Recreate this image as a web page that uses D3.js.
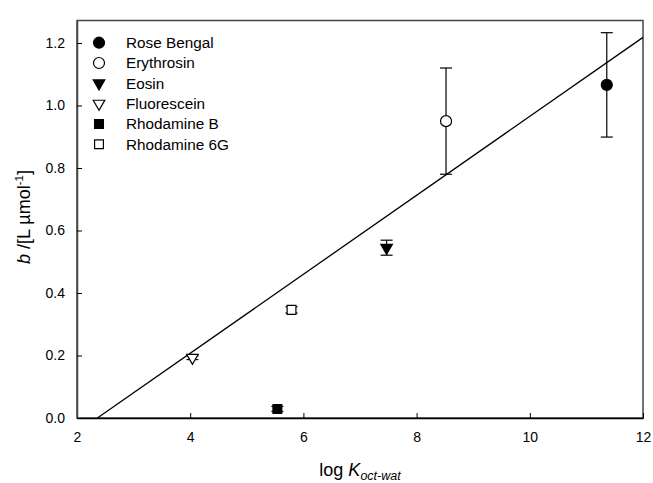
<!DOCTYPE html>
<html>
<head>
<meta charset="utf-8">
<script src="https://cdn.jsdelivr.net/npm/d3@7"></script>
<style>
  body { margin: 0; background: #fff; }
  svg { font-family: "Liberation Sans", Arial, sans-serif; }
</style>
</head>
<body>
<div id="chart"></div>
<script>
const dyes = ["Rose Bengal", "Erythrosin", "Eosin", "Fluorescein", "Rhodamine B", "Rhodamine 6G"];
const logK = [11.36, 8.52, 7.47, 4.04, 5.54, 5.79];
const bValues = [1.066, 0.950, 0.545, 0.193, 0.029, 0.346];
const bErrors = [0.167, 0.170, 0.024, 0.006, 0.008, 0.010];
const symbols = ["circle", "circle", "triangleDown", "triangleDown", "square", "square"];
const filled = [true, false, true, false, true, false];
const fitLine = [[2.36, 0], [12, 1.218]];
const xTicks = [2, 4, 6, 8, 10, 12];
const yTicks = [0.0, 0.2, 0.4, 0.6, 0.8, 1.0, 1.2];

const w = 653;
const h = 483;
const margin = { left: 77, right: 10, top: 20.5, bottom: 65 };

const svg = d3.select("#chart").append("svg").attr("width", w).attr("height", h);

const xScale = d3.scaleLinear().domain([2, 12]).range([margin.left, w - margin.right]);
const yScale = d3.scaleLinear().domain([0, 1.272]).range([h - margin.bottom, margin.top]);

// frame
svg.append("rect")
  .attr("x", xScale(2))
  .attr("y", yScale(1.272))
  .attr("width", xScale(12) - xScale(2))
  .attr("height", yScale(0) - yScale(1.272))
  .attr("fill", "none")
  .attr("stroke", "#444")
  .attr("stroke-width", 1.5);

const xAxis = d3.axisBottom(xScale).tickValues(xTicks).tickFormat(d3.format("d"))
  .tickSizeInner(-5).tickSizeOuter(0).tickPadding(14);
svg.append("g")
  .attr("transform", "translate(0," + yScale(0) + ")")
  .call(xAxis)
  .call((g) => g.select(".domain").attr("stroke", "#000").attr("stroke-width", 1.5));

const yAxis = d3.axisLeft(yScale).tickValues(yTicks).tickFormat(d3.format(".1f"))
  .tickSizeInner(-5).tickSizeOuter(0).tickPadding(12);
svg.append("g")
  .attr("transform", "translate(" + xScale(2) + ",0)")
  .call(yAxis)
  .call((g) => g.select(".domain").attr("stroke", "#444").attr("stroke-width", 1.5));

svg.selectAll(".tick text").attr("font-size", 14).attr("fill", "#000")
  .attr("font-family", "Liberation Sans, Arial, sans-serif");
svg.selectAll(".tick line").attr("stroke", "#000");

// regression line
svg.append("line")
  .attr("x1", xScale(fitLine[0][0]))
  .attr("y1", yScale(fitLine[0][1]))
  .attr("x2", xScale(fitLine[1][0]))
  .attr("y2", yScale(fitLine[1][1]))
  .attr("stroke", "#000")
  .attr("stroke-width", 1.3);

const symbolType = {
  circle: d3.symbolCircle,
  triangleDown: d3.symbolTriangle,
  square: d3.symbolSquare,
};
const symbolSize = { circle: 95, triangleDown: 58, square: 78 };
const symbolGen = (s) => d3.symbol().type(symbolType[s]).size(symbolSize[s])();
const rotate = (s) => (s === "triangleDown" ? " rotate(180)" : "");

const points = dyes.map((name, i) => ({
  name: name,
  x: logK[i],
  y: bValues[i],
  err: bErrors[i],
  sym: symbols[i],
  fill: filled[i],
}));

// error bars
const eb = svg.selectAll(".err").data(points).enter().append("g").attr("class", "err")
  .attr("stroke", "#000").attr("stroke-width", 1.2);
eb.append("line")
  .attr("x1", (d) => xScale(d.x)).attr("x2", (d) => xScale(d.x))
  .attr("y1", (d) => yScale(d.y - d.err)).attr("y2", (d) => yScale(d.y + d.err));
eb.append("line")
  .attr("x1", (d) => xScale(d.x) - 6).attr("x2", (d) => xScale(d.x) + 6)
  .attr("y1", (d) => yScale(d.y + d.err)).attr("y2", (d) => yScale(d.y + d.err));
eb.append("line")
  .attr("x1", (d) => xScale(d.x) - 6).attr("x2", (d) => xScale(d.x) + 6)
  .attr("y1", (d) => yScale(d.y - d.err)).attr("y2", (d) => yScale(d.y - d.err));

// markers
svg.selectAll(".pt").data(points).enter().append("path")
  .attr("class", "pt")
  .attr("d", (d) => symbolGen(d.sym))
  .attr("transform", (d) => "translate(" + xScale(d.x) + "," + yScale(d.y) + ")" + rotate(d.sym))
  .attr("fill", (d) => (d.fill ? "#000" : "#fff"))
  .attr("stroke", "#000")
  .attr("stroke-width", 1.2);

// legend
const legend = svg.selectAll(".leg").data(points).enter().append("g")
  .attr("class", "leg")
  .attr("transform", (d, i) => "translate(99," + (42.7 + i * 20.3) + ")");
legend.append("path")
  .attr("d", (d) => symbolGen(d.sym))
  .attr("transform", (d) => rotate(d.sym).trim())
  .attr("fill", (d) => (d.fill ? "#000" : "#fff"))
  .attr("stroke", "#000")
  .attr("stroke-width", 1.2);
legend.append("text")
  .attr("x", 27)
  .attr("dy", "0.35em")
  .attr("font-size", 15.3)
  .text((d) => d.name);

// axis titles
const xt = svg.append("text")
  .attr("x", 360)
  .attr("y", 476)
  .attr("text-anchor", "middle")
  .attr("font-size", 18);
xt.append("tspan").text("log ");
xt.append("tspan").attr("font-style", "italic").text("K");
xt.append("tspan").attr("font-style", "italic").attr("font-size", 12.5).attr("dy", 4).text("oct-wat");

const yt = svg.append("text")
  .attr("transform", "translate(30,217) rotate(-90)")
  .attr("text-anchor", "middle")
  .attr("font-size", 18);
yt.append("tspan").attr("font-style", "italic").text("b");
yt.append("tspan").text(" /[L µmol");
yt.append("tspan").attr("font-size", 11.5).attr("dy", -7).text("-1");
yt.append("tspan").attr("dy", 7).text("]");
</script>
</body>
</html>
